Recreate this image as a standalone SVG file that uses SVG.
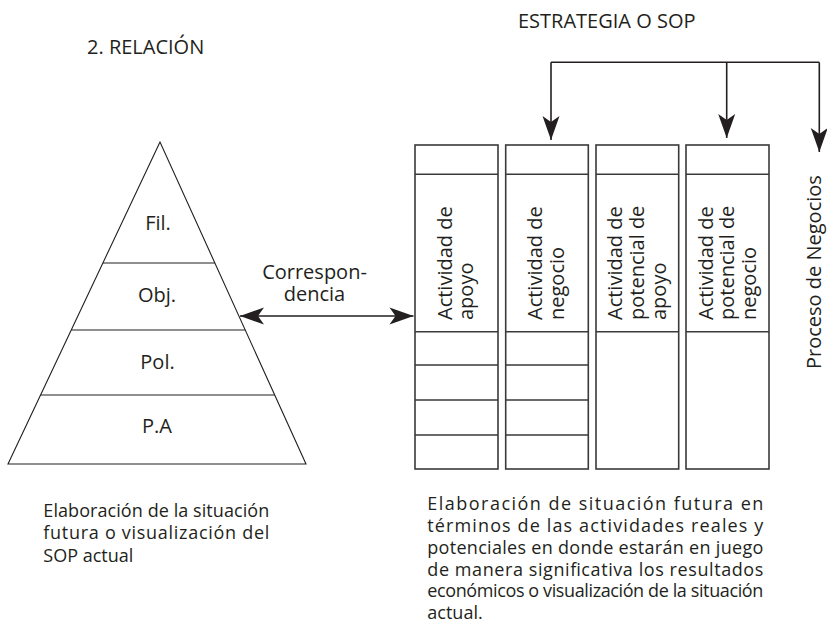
<svg xmlns="http://www.w3.org/2000/svg" width="827" height="635" viewBox="0 0 827 635">
<style>
  .t { font-family: "Open Sans", "Noto Sans", "Liberation Sans", sans-serif; fill: #231f20; }
  .f20 { font-size: 20px; }
  .f18 { font-size: 18px; }
  .mid { text-anchor: middle; }
  .pyr { fill: none; stroke: #231f20; stroke-width: 1.1; }
  .col { fill: #ffffff; stroke: #3a3a3a; stroke-width: 1.6; }
  .div { stroke: #3a3a3a; stroke-width: 1.6; fill: none; }
  .con { stroke: #231f20; stroke-width: 1.6; fill: none; }
</style>
<defs>
  <marker id="ah" markerUnits="userSpaceOnUse" markerWidth="25" markerHeight="17" refX="24" refY="8.5" orient="auto-start-reverse" overflow="visible">
    <path d="M0,0 L24,8.5 L0,17 L6,8.5 Z" fill="#231f20"/>
  </marker>
</defs>
<rect width="827" height="635" fill="#ffffff"/>

<text class="t f20" x="87" y="54">2. RELACIÓN</text>
<text class="t f20" x="518" y="28">ESTRATEGIA O SOP</text>

<g id="pyramid">
  <polygon class="pyr" points="160,142 8,464 306,464"/>
  <line class="pyr" x1="102.9" y1="263" x2="214.9" y2="263"/>
  <line class="pyr" x1="71.3" y1="330" x2="245.3" y2="330"/>
  <line class="pyr" x1="40.6" y1="395" x2="274.7" y2="395"/>
  <text class="t f20 mid" x="158" y="230">Fil.</text>
  <text class="t f20 mid" x="157" y="302">Obj.</text>
  <text class="t f20 mid" x="157.5" y="369">Pol.</text>
  <text class="t f20 mid" x="157" y="433">P.A</text>
</g>

<g id="col-apoyo">
  <rect class="col" x="415" y="145" width="83" height="324"/>
  <path class="div" d="M415,174.3H498 M415,331.7H498 M415,365H498 M415,400H498 M415,435H498"/>
  <text class="t f20" transform="translate(451.7,320) rotate(-90)"><tspan x="0" y="0">Actividad de</tspan><tspan x="0" dy="21.7">apoyo</tspan></text>
</g>

<g id="col-negocio">
  <rect class="col" x="505.7" y="145" width="82.6" height="324"/>
  <path class="div" d="M505.7,174.3H588.3 M505.7,331.7H588.3 M505.7,365H588.3 M505.7,400H588.3 M505.7,435H588.3"/>
  <text class="t f20" transform="translate(542,320) rotate(-90)"><tspan x="0" y="0">Actividad de</tspan><tspan x="0" dy="21.7">negocio</tspan></text>
</g>

<g id="col-potencial-apoyo">
  <rect class="col" x="596" y="145" width="82.7" height="324"/>
  <path class="div" d="M596,174.3H678.7 M596,331.7H678.7"/>
  <text class="t f20" transform="translate(622.3,320) rotate(-90)"><tspan x="0" y="0">Actividad de</tspan><tspan x="0" dy="21.7">potencial de</tspan><tspan x="0" dy="21.7">apoyo</tspan></text>
</g>

<g id="col-potencial-negocio">
  <rect class="col" x="686" y="145" width="83" height="324"/>
  <path class="div" d="M686,174.3H769 M686,331.7H769"/>
  <text class="t f20" transform="translate(712.7,320) rotate(-90)"><tspan x="0" y="0">Actividad de</tspan><tspan x="0" dy="21.7">potencial de</tspan><tspan x="0" dy="21.7">negocio</tspan></text>
</g>

<g id="proceso">
  <text class="t f20" transform="translate(821,369) rotate(-90)">Proceso de Negocios</text>
</g>

<g id="connectors">
  <path class="con" d="M551,62.3 H819.3"/>
  <path class="con" d="M551,62.3 V140" marker-end="url(#ah)"/>
  <path class="con" d="M726.7,62.3 V138" marker-end="url(#ah)"/>
  <path class="con" d="M819.3,62.3 V152" marker-end="url(#ah)"/>
  <path class="con" d="M240,316 H413.5" marker-start="url(#ah)" marker-end="url(#ah)"/>
</g>

<g id="label-correspondencia">
  <text class="t f20 mid" x="314.5" y="279">Correspon-</text>
  <text class="t f20 mid" x="314.5" y="300.5">dencia</text>
</g>

<g id="caption-left">
  <text class="t f18" x="43.3" y="517.3" textLength="226" lengthAdjust="spacing">Elaboración de la situación</text>
  <text class="t f18" x="43.3" y="539.3" textLength="226" lengthAdjust="spacing">futura o visualización del</text>
  <text class="t f18" x="43.3" y="561.5">SOP actual</text>
</g>

<g id="caption-right">
  <text class="t f18" x="427.3" y="510.3" textLength="336" lengthAdjust="spacing">Elaboración de situación futura en</text>
  <text class="t f18" x="427.3" y="532.3" textLength="336" lengthAdjust="spacing">términos de las actividades reales y</text>
  <text class="t f18" x="427.3" y="554" textLength="336" lengthAdjust="spacing">potenciales en donde estarán en juego</text>
  <text class="t f18" x="427.3" y="575.7" textLength="336" lengthAdjust="spacing">de manera significativa los resultados</text>
  <text class="t f18" x="427.3" y="597" textLength="336" lengthAdjust="spacing">económicos o visualización de la situación</text>
  <text class="t f18" x="427.3" y="619.3">actual.</text>
</g>
</svg>
